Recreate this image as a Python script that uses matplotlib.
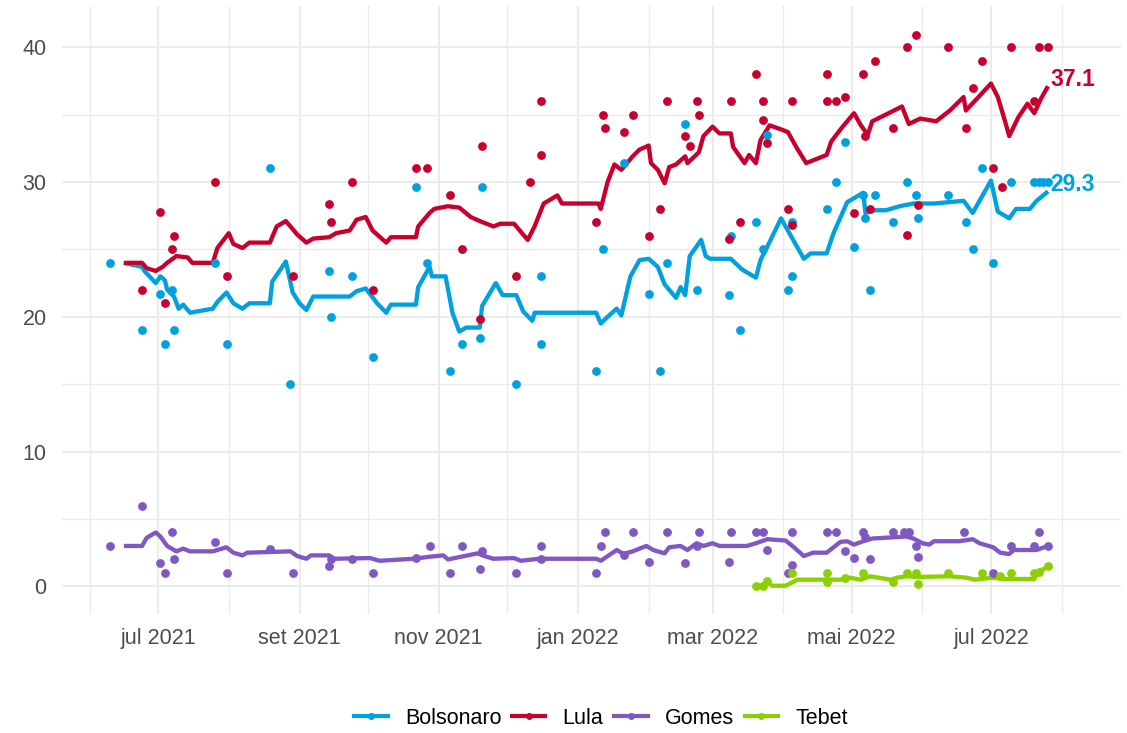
import matplotlib
matplotlib.use("Agg")
import matplotlib.pyplot as plt
from matplotlib.lines import Line2D
import pandas as pd

plt.rcParams["font.family"] = ["Liberation Sans", "DejaVu Sans"]

# --- cores dos candidatos ---
colors = {
    "Bolsonaro": "#00A1DE",
    "Lula": "#C9002E",
    "Gomes": "#7F58C4",
    "Tebet": "#8BD000",
}

# --- pesquisas (pontos) ---
bolso_poll_dates = [
    "2021-06-10", "2021-06-24", "2021-07-02", "2021-07-04", "2021-07-07", "2021-07-08",
    "2021-07-26", "2021-07-31", "2021-08-19", "2021-08-28", "2021-09-14", "2021-09-15",
    "2021-09-24", "2021-10-03", "2021-10-22", "2021-10-27", "2021-11-06", "2021-11-11",
    "2021-11-19", "2021-11-20", "2021-12-05", "2021-12-16", "2021-12-16", "2022-01-09",
    "2022-01-12", "2022-01-21", "2022-02-01", "2022-02-06", "2022-02-09", "2022-02-17",
    "2022-02-22", "2022-03-08", "2022-03-09", "2022-03-13", "2022-03-20", "2022-03-23",
    "2022-03-25", "2022-04-03", "2022-04-05", "2022-04-05", "2022-04-20", "2022-04-24",
    "2022-04-28", "2022-05-02", "2022-05-06", "2022-05-07", "2022-05-09", "2022-05-11",
    "2022-05-19", "2022-05-25", "2022-05-29", "2022-05-30", "2022-06-12", "2022-06-20",
    "2022-06-23", "2022-06-27", "2022-07-02", "2022-07-10", "2022-07-20", "2022-07-22",
    "2022-07-24", "2022-07-26",
]
bolso_poll_vals = [
    24, 19, 21.7, 18, 22, 19,
    24, 18, 31, 15, 23.4, 20,
    23, 17, 29.6, 24, 16, 18,
    18.4, 29.6, 15, 23, 18, 16,
    25, 31.4, 21.7, 16, 24, 34.3,
    22, 21.6, 26, 19, 27, 25,
    33.5, 22, 23, 27, 28, 30,
    33, 25.2, 29, 27.3, 22, 29,
    27, 30, 29, 27.3, 29, 27,
    25, 31, 24, 30, 30, 30,
    30, 30,
]

lula_poll_dates = [
    "2021-06-24", "2021-07-02", "2021-07-04", "2021-07-07", "2021-07-08", "2021-07-26",
    "2021-07-31", "2021-08-29", "2021-09-14", "2021-09-15", "2021-09-24", "2021-10-03",
    "2021-10-22", "2021-10-27", "2021-11-06", "2021-11-11", "2021-11-19", "2021-11-20",
    "2021-12-05", "2021-12-11", "2021-12-16", "2021-12-16", "2022-01-09", "2022-01-12",
    "2022-01-13", "2022-01-21", "2022-01-25", "2022-02-01", "2022-02-06", "2022-02-09",
    "2022-02-17", "2022-02-19", "2022-02-22", "2022-02-23", "2022-03-08", "2022-03-09",
    "2022-03-13", "2022-03-20", "2022-03-23", "2022-03-23", "2022-03-25", "2022-04-03",
    "2022-04-05", "2022-04-05", "2022-04-20", "2022-04-20", "2022-04-24", "2022-04-28",
    "2022-05-02", "2022-05-06", "2022-05-07", "2022-05-09", "2022-05-11", "2022-05-19",
    "2022-05-25", "2022-05-25", "2022-05-29", "2022-05-30", "2022-06-12", "2022-06-20",
    "2022-06-23", "2022-06-27", "2022-07-02", "2022-07-06", "2022-07-10", "2022-07-20",
    "2022-07-22", "2022-07-26",
]
lula_poll_vals = [
    22, 27.8, 21, 25, 26, 30,
    23, 23, 28.4, 27, 30, 22,
    31, 31, 29, 25, 19.8, 32.7,
    23, 30, 36, 32, 27, 35,
    34, 33.7, 35, 26, 28, 36,
    33.4, 32.7, 36, 35, 25.8, 36,
    27, 38, 36, 34.6, 32.9, 28,
    36, 26.8, 38, 36, 36, 36.3,
    27.7, 38, 33.4, 28, 39, 34,
    26.1, 40, 40.9, 28.3, 40, 34,
    37, 39, 31, 29.6, 40, 36,
    40, 40,
]

gomes_poll_dates = [
    "2021-06-10", "2021-06-24", "2021-07-02", "2021-07-04", "2021-07-07", "2021-07-08",
    "2021-07-26", "2021-07-31", "2021-08-19", "2021-08-29", "2021-09-14", "2021-09-15",
    "2021-09-24", "2021-10-03", "2021-10-22", "2021-10-28", "2021-11-06", "2021-11-11",
    "2021-11-19", "2021-11-20", "2021-12-05", "2021-12-16", "2021-12-16", "2022-01-09",
    "2022-01-11", "2022-01-13", "2022-01-21", "2022-01-25", "2022-02-01", "2022-02-09",
    "2022-02-17", "2022-02-22", "2022-02-23", "2022-03-08", "2022-03-09", "2022-03-20",
    "2022-03-23", "2022-03-25", "2022-04-03", "2022-04-05", "2022-04-05", "2022-04-20",
    "2022-04-24", "2022-04-28", "2022-05-02", "2022-05-06", "2022-05-07", "2022-05-09",
    "2022-05-19", "2022-05-24", "2022-05-26", "2022-05-29", "2022-05-30", "2022-06-19",
    "2022-07-02", "2022-07-10", "2022-07-20", "2022-07-22", "2022-07-26",
]
gomes_poll_vals = [
    3, 6, 1.7, 1, 4, 2,
    3.3, 1, 2.8, 1, 1.5, 2,
    2, 1, 2.1, 3, 1, 3,
    1.3, 2.6, 1, 3, 2, 1,
    3, 4, 2.3, 4, 1.8, 4,
    1.7, 3, 4, 1.8, 4, 4,
    4, 2.7, 1, 4, 1.6, 4,
    4, 2.6, 2.1, 4, 3.7, 2,
    4, 4, 4, 3, 2.2, 4,
    1, 3, 3, 4, 3,
]

tebet_poll_dates = [
    "2022-03-20", "2022-03-23", "2022-03-25", "2022-04-05", "2022-04-20", "2022-04-20",
    "2022-04-28", "2022-05-06", "2022-05-19", "2022-05-25", "2022-05-29", "2022-05-30",
    "2022-06-12", "2022-06-27", "2022-07-05", "2022-07-10", "2022-07-20", "2022-07-22",
    "2022-07-26",
]
tebet_poll_vals = [
    0, 0, 0.4, 1, 1, 0.3,
    0.6, 1, 0.3, 1, 1, 0.2,
    1, 1, 0.8, 1, 1, 1.1,
    1.5,
]

# --- médias (linhas) ---
bolso_avg_dates = [
    "2021-06-16", "2021-06-24", "2021-06-25", "2021-06-30", "2021-07-02", "2021-07-04",
    "2021-07-05", "2021-07-08", "2021-07-10", "2021-07-12", "2021-07-15", "2021-07-25",
    "2021-07-27", "2021-07-31", "2021-08-03", "2021-08-07", "2021-08-10", "2021-08-19",
    "2021-08-20", "2021-08-26", "2021-08-29", "2021-09-01", "2021-09-04", "2021-09-07",
    "2021-09-23", "2021-09-26", "2021-09-30", "2021-10-05", "2021-10-09", "2021-10-11",
    "2021-10-22", "2021-10-23", "2021-10-28", "2021-10-29", "2021-11-04", "2021-11-07",
    "2021-11-10", "2021-11-13", "2021-11-19", "2021-11-20", "2021-11-26", "2021-11-29",
    "2021-12-05", "2021-12-08", "2021-12-12", "2021-12-13", "2022-01-09", "2022-01-11",
    "2022-01-14", "2022-01-18", "2022-01-20", "2022-01-24", "2022-01-28", "2022-02-01",
    "2022-02-05", "2022-02-08", "2022-02-13", "2022-02-15", "2022-02-17", "2022-02-19",
    "2022-02-24", "2022-02-26", "2022-02-28", "2022-03-09", "2022-03-14", "2022-03-20",
    "2022-03-22", "2022-03-25", "2022-03-31", "2022-04-10", "2022-04-13", "2022-04-20",
    "2022-04-23", "2022-04-29", "2022-05-02", "2022-05-06", "2022-05-07", "2022-05-10",
    "2022-05-16", "2022-05-22", "2022-05-28", "2022-06-06", "2022-06-19", "2022-06-23",
    "2022-07-01", "2022-07-04", "2022-07-09", "2022-07-12", "2022-07-18", "2022-07-21",
    "2022-07-26",
]
bolso_avg_vals = [
    24.0, 23.7, 23.4, 22.5, 23.0, 22.7,
    22.0, 21.5, 20.6, 20.9, 20.3, 20.6,
    21.1, 21.8, 21.0, 20.6, 21.0, 21.0,
    22.6, 24.1, 21.8, 21.0, 20.5, 21.5,
    21.5, 21.9, 22.1, 21.0, 20.3, 20.9,
    20.9, 22.2, 23.7, 23.0, 23.0, 20.3,
    18.9, 19.2, 19.2, 20.8, 22.5, 21.6,
    21.6, 20.4, 19.7, 20.3, 20.3, 19.5,
    20.0, 20.6, 20.1, 23.0, 24.2, 24.3,
    23.7, 22.4, 21.4, 22.2, 21.6, 24.5,
    25.7, 24.5, 24.3, 24.3, 23.5, 22.9,
    24.2, 25.2, 27.3, 24.3, 24.7, 24.7,
    26.2, 28.5, 28.8, 29.2, 27.7, 27.9,
    27.9, 28.2, 28.4, 28.4, 28.6, 27.7,
    30.1, 27.8, 27.3, 28.0, 28.0, 28.6,
    29.3,
]

lula_avg_dates = [
    "2021-06-16", "2021-06-24", "2021-06-26", "2021-06-30", "2021-07-03", "2021-07-05",
    "2021-07-09", "2021-07-14", "2021-07-16", "2021-07-25", "2021-07-27", "2021-08-01",
    "2021-08-03", "2021-08-07", "2021-08-10", "2021-08-19", "2021-08-22", "2021-08-26",
    "2021-08-31", "2021-09-04", "2021-09-07", "2021-09-14", "2021-09-17", "2021-09-23",
    "2021-09-26", "2021-09-30", "2021-10-03", "2021-10-09", "2021-10-11", "2021-10-22",
    "2021-10-23", "2021-10-28", "2021-10-30", "2021-11-05", "2021-11-10", "2021-11-15",
    "2021-11-19", "2021-11-25", "2021-11-28", "2021-12-04", "2021-12-10", "2021-12-13",
    "2021-12-17", "2021-12-23", "2021-12-25", "2022-01-10", "2022-01-11", "2022-01-14",
    "2022-01-17", "2022-01-20", "2022-01-25", "2022-01-28", "2022-02-01", "2022-02-02",
    "2022-02-05", "2022-02-08", "2022-02-10", "2022-02-13", "2022-02-17", "2022-02-18",
    "2022-02-23", "2022-02-25", "2022-03-01", "2022-03-04", "2022-03-09", "2022-03-10",
    "2022-03-15", "2022-03-17", "2022-03-20", "2022-03-22", "2022-03-26", "2022-03-31",
    "2022-04-03", "2022-04-07", "2022-04-11", "2022-04-20", "2022-04-22", "2022-04-27",
    "2022-05-02", "2022-05-05", "2022-05-08", "2022-05-10", "2022-05-16", "2022-05-23",
    "2022-05-26", "2022-05-31", "2022-06-07", "2022-06-13", "2022-06-19", "2022-06-20",
    "2022-06-25", "2022-07-01", "2022-07-04", "2022-07-07", "2022-07-09", "2022-07-13",
    "2022-07-17", "2022-07-20", "2022-07-23", "2022-07-26",
]
lula_avg_vals = [
    24.0, 24.0, 23.6, 23.4, 23.7, 24.0,
    24.5, 24.4, 24.0, 24.0, 25.1, 26.2,
    25.4, 25.1, 25.5, 25.5, 26.7, 27.1,
    26.1, 25.5, 25.8, 25.9, 26.2, 26.4,
    27.2, 27.4, 26.4, 25.5, 25.9, 25.9,
    26.7, 27.7, 28.0, 28.2, 28.1, 27.4,
    27.1, 26.7, 26.9, 26.9, 25.7, 26.7,
    28.4, 29.0, 28.4, 28.4, 28.0, 30.0,
    31.3, 30.9, 31.9, 32.4, 32.7, 31.4,
    30.9, 29.9, 31.1, 31.3, 31.9, 31.4,
    32.2, 33.4, 34.1, 33.6, 33.6, 32.6,
    31.4, 32.0, 31.4, 33.1, 34.2, 33.9,
    33.7, 32.5, 31.4, 32.0, 33.0, 34.1,
    35.1, 34.2, 33.5, 34.5, 35.0, 35.6,
    34.3, 34.7, 34.5, 35.3, 36.3, 35.3,
    36.2, 37.3, 36.3, 34.6, 33.4, 34.8,
    35.8, 35.1, 36.2, 37.1,
]

gomes_avg_dates = [
    "2021-06-16", "2021-06-24", "2021-06-26", "2021-06-30", "2021-07-02", "2021-07-05",
    "2021-07-09", "2021-07-12", "2021-07-15", "2021-07-25", "2021-07-31", "2021-08-03",
    "2021-08-07", "2021-08-09", "2021-08-28", "2021-08-31", "2021-09-04", "2021-09-06",
    "2021-09-14", "2021-09-16", "2021-10-02", "2021-10-06", "2021-10-21", "2021-10-28",
    "2021-11-03", "2021-11-05", "2021-11-18", "2021-11-21", "2021-11-25", "2021-12-04",
    "2021-12-07", "2021-12-15", "2022-01-09", "2022-01-11", "2022-01-18", "2022-01-21",
    "2022-01-25", "2022-01-31", "2022-02-03", "2022-02-08", "2022-02-10", "2022-02-15",
    "2022-02-18", "2022-02-22", "2022-02-25", "2022-03-01", "2022-03-04", "2022-03-16",
    "2022-03-20", "2022-03-25", "2022-04-02", "2022-04-05", "2022-04-10", "2022-04-14",
    "2022-04-20", "2022-04-26", "2022-04-29", "2022-05-02", "2022-05-06", "2022-05-10",
    "2022-05-25", "2022-05-28", "2022-06-01", "2022-06-04", "2022-06-06", "2022-06-17",
    "2022-06-23", "2022-06-26", "2022-07-02", "2022-07-05", "2022-07-09", "2022-07-11",
    "2022-07-21", "2022-07-26",
]
gomes_avg_vals = [
    3.0, 3.0, 3.6, 4.0, 3.7, 3.0,
    2.6, 2.8, 2.6, 2.6, 2.9, 2.5,
    2.3, 2.5, 2.6, 2.25, 2.05, 2.3,
    2.3, 2.05, 2.1, 1.9, 2.05, 2.2,
    2.3, 2.0, 2.45, 2.25, 2.05, 2.1,
    1.9, 2.05, 2.05, 1.9, 2.7, 2.4,
    2.6, 3.0, 2.7, 2.45, 2.9, 3.0,
    2.7, 3.2, 3.0, 3.2, 3.0, 3.0,
    3.2, 3.5, 3.4, 3.0, 2.25, 2.5,
    2.5, 3.3, 3.35, 3.1, 3.35, 3.55,
    3.7, 3.55, 3.2, 3.1, 3.35, 3.35,
    3.5, 3.2, 2.9, 2.5, 2.4, 2.7,
    2.7, 3.0,
]

tebet_avg_dates = [
    "2022-03-20", "2022-03-23", "2022-03-25", "2022-03-27", "2022-04-02", "2022-04-05",
    "2022-04-07", "2022-04-27", "2022-04-30", "2022-05-05", "2022-05-09", "2022-05-18",
    "2022-05-21", "2022-05-25", "2022-05-30", "2022-06-13", "2022-06-20", "2022-06-24",
    "2022-07-02", "2022-07-06", "2022-07-20", "2022-07-21", "2022-07-23", "2022-07-26",
]
tebet_avg_vals = [
    0.0, 0.1, 0.4, 0.05, 0.05, 0.3,
    0.5, 0.5, 0.65, 0.5, 0.75, 0.5,
    0.65, 0.75, 0.7, 0.75, 0.65, 0.5,
    0.65, 0.55, 0.55, 0.9, 1.2, 1.45,
]

series = [
    ("Bolsonaro", bolso_avg_dates, bolso_avg_vals, bolso_poll_dates, bolso_poll_vals),
    ("Lula", lula_avg_dates, lula_avg_vals, lula_poll_dates, lula_poll_vals),
    ("Gomes", gomes_avg_dates, gomes_avg_vals, gomes_poll_dates, gomes_poll_vals),
    ("Tebet", tebet_avg_dates, tebet_avg_vals, tebet_poll_dates, tebet_poll_vals),
]
labelled = ["Lula", "Bolsonaro"]

tick_dates = ["2021-07-01", "2021-09-01", "2021-11-01", "2022-01-01",
              "2022-03-01", "2022-05-01", "2022-07-01"]
tick_labels = ["jul 2021", "set 2021", "nov 2021", "jan 2022",
               "mar 2022", "mai 2022", "jul 2022"]
minor_dates = ["2021-06-01", "2021-08-01", "2021-10-01", "2021-12-01",
               "2022-02-01", "2022-04-01", "2022-06-01", "2022-08-01"]

fig = plt.figure(figsize=(11.27, 7.33), dpi=100)
ax = fig.add_axes([0.055, 0.1623, 0.9397, 0.8295])

# linhas primeiro, pontos por cima
for name, ad, av, pd_, pv in series:
    ax.plot(pd.to_datetime(ad), av, color=colors[name], lw=3.1,
            solid_capstyle="butt", zorder=3)
for name, ad, av, pd_, pv in series:
    ax.scatter(pd.to_datetime(pd_), pv, s=40, color=colors[name],
               linewidths=0, zorder=4)

for name, ad, av, pd_, pv in series:
    if name in labelled:
        ax.annotate(f"{av[-1]:.1f}", xy=(pd.to_datetime(ad[-1]), av[-1]),
                    xytext=(1.5, 0), textcoords="offset points",
                    ha="left", va="baseline", fontsize=16.5,
                    fontweight="bold", color=colors[name], zorder=5)

ref = pd.Timestamp("2021-07-01")
ax.set_xlim(ref - pd.Timedelta(days=42.1), ref + pd.Timedelta(days=422))
ax.set_ylim(-2.05, 43.05)

ax.set_xticks(pd.to_datetime(tick_dates))
ax.set_xticklabels(tick_labels)
ax.set_xticks(pd.to_datetime(minor_dates), minor=True)
ax.set_yticks([0, 10, 20, 30, 40])
ax.set_yticks([5, 15, 25, 35], minor=True)

ax.grid(which="major", color="#EBEBEB", lw=1.5)
ax.grid(which="minor", color="#EBEBEB", lw=1.0)
ax.set_axisbelow(True)
for sp in ax.spines.values():
    sp.set_visible(False)
ax.tick_params(which="both", length=0)
ax.tick_params(axis="x", pad=10, labelsize=15.5, labelcolor="#4D4D4D")
ax.tick_params(axis="y", pad=11, labelsize=15.5, labelcolor="#4D4D4D")

handles = [Line2D([], [], color=colors[n], lw=3, marker="o", markersize=4)
           for n, *_ in series]
fig.legend(handles, [n for n, *_ in series], loc="center",
           bbox_to_anchor=(601 / 1127, 15 / 733), ncol=4, frameon=False,
           fontsize=15.5, handlelength=1.55, handletextpad=0.8,
           columnspacing=0.5, labelcolor="black")

fig.savefig("out.png", dpi=100)
plt.close(fig)
